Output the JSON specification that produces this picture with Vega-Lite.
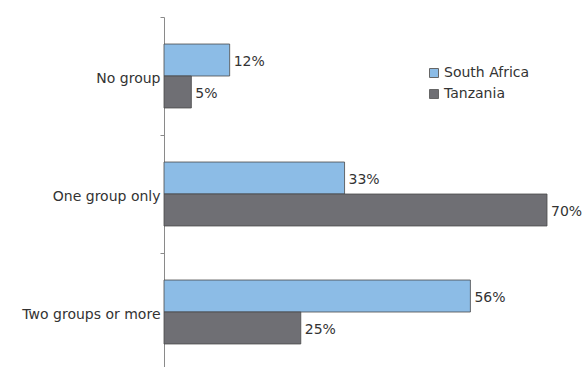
{
  "$schema": "https://vega.github.io/schema/vega-lite/v6.json",
  "width": 383,
  "height": 354,
  "autosize": "none",
  "padding": {"left": 164, "top": 17, "right": 39, "bottom": 0},
  "background": "white",
  "config": {
    "view": {"stroke": null},
    "font": "DejaVu Sans",
    "text": {"font": "DejaVu Sans"}
  },
  "data": {
    "values": [
      {"category": "No group", "country": "South Africa", "value": 12},
      {"category": "No group", "country": "Tanzania", "value": 5},
      {"category": "One group only", "country": "South Africa", "value": 33},
      {"category": "One group only", "country": "Tanzania", "value": 70},
      {"category": "Two groups or more", "country": "South Africa", "value": 56},
      {"category": "Two groups or more", "country": "Tanzania", "value": 25}
    ]
  },
  "encoding": {
    "y": {
      "field": "category",
      "type": "nominal",
      "sort": ["No group", "One group only", "Two groups or more"],
      "scale": {"paddingInner": 0.458, "paddingOuter": 0.229},
      "axis": {
        "title": null,
        "labelFont": "DejaVu Sans",
        "labelFontSize": 14,
        "labelColor": "#333333",
        "domainColor": "#8a8a8a",
        "tickColor": "#8a8a8a",
        "tickOffset": -59,
        "labelOffset": 61,
        "tickSize": 4,
        "labelPadding": 0,
        "labelLimit": 200
      }
    },
    "yOffset": {
      "field": "country",
      "type": "nominal",
      "sort": ["South Africa", "Tanzania"],
      "scale": {"paddingInner": 0, "paddingOuter": 0}
    },
    "x": {
      "field": "value",
      "type": "quantitative",
      "scale": {"domain": [0, 70], "nice": false},
      "axis": null
    }
  },
  "layer": [
    {
      "mark": {"type": "bar", "stroke": "#4a4a4a", "strokeWidth": 0.8},
      "encoding": {
        "color": {
          "field": "country",
          "type": "nominal",
          "sort": ["South Africa", "Tanzania"],
          "scale": {"domain": ["South Africa", "Tanzania"], "range": ["#8cbce6", "#6f6f74"]},
          "legend": {
            "title": null,
            "orient": "none",
            "legendX": 263,
            "legendY": 49,
            "symbolType": "square",
            "symbolSize": 81,
            "symbolStrokeColor": "#666666",
            "symbolStrokeWidth": 1,
            "labelFont": "DejaVu Sans",
            "labelFontSize": 14,
            "labelColor": "#333333",
            "rowPadding": 7,
            "labelOffset": 3
          }
        }
      }
    },
    {
      "mark": {"type": "text", "align": "left", "baseline": "middle", "dx": 4, "dy": 2, "fontSize": 14, "color": "#333333"},
      "encoding": {
        "text": {"field": "label", "type": "nominal"}
      },
      "transform": [{"calculate": "datum.value + '%'", "as": "label"}]
    }
  ]
}
